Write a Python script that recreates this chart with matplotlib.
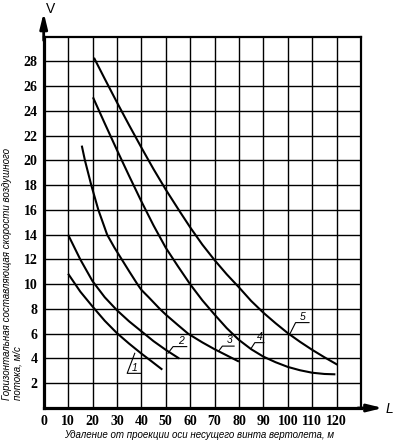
import matplotlib
matplotlib.use('Agg')
import matplotlib.pyplot as plt

# ---- data ----
x_ticks = [0, 10, 20, 30, 40, 50, 60, 70, 80, 90, 100, 110, 120]
x_labels = ['0', '10', '20', '30', '40', '50', '60', '70', '80', '90', '100', '110', '120']
y_ticks = [2, 4, 6, 8, 10, 12, 14, 16, 18, 20, 22, 24, 26, 28]
y_labels = [str(v) for v in y_ticks]

c1_x = [10, 15, 20, 25, 30, 35, 40, 44, 48.6]
c1_y = [10.85, 9.4, 8.2, 7.05, 6.05, 5.2, 4.4, 3.8, 3.1]

c2_x = [10, 13, 15, 20, 25, 30, 35, 40, 45, 50, 55.5]
c2_y = [14.0, 12.8, 12.0, 10.25, 8.95, 7.9, 7.0, 6.2, 5.4, 4.7, 4.0]

c3_x = [15.6, 16.9, 19.5, 22.4, 26, 29, 32, 35, 38.4, 40, 43, 47.6, 50, 55, 59.2, 65, 70, 75, 80]
c3_y = [21.2, 20.0, 18.0, 16.0, 14.0, 12.95, 12.0, 11.05, 10.0, 9.55, 8.95, 8.0, 7.55, 6.7, 6.0, 5.3, 4.75, 4.25, 3.75]

c4_x = [20.2, 25, 30, 35, 40, 45, 50, 55, 60, 65, 70, 75, 80, 85, 90, 95, 100, 105, 110, 115, 119.5]
c4_y = [25.1, 23.0, 20.85, 18.75, 16.7, 14.75, 12.95, 11.45, 10.0, 8.7, 7.55, 6.45, 5.5, 4.75, 4.15, 3.7, 3.32, 3.05, 2.85, 2.75, 2.72]

c5_x = [20.6, 25, 30, 35, 40, 45, 50, 56, 60, 65, 70, 75, 80, 85, 90, 95, 100, 105, 110, 115, 120.3]
c5_y = [28.3, 26.6, 24.7, 22.85, 21.05, 19.3, 17.65, 15.8, 14.6, 13.2, 11.95, 10.8, 9.75, 8.65, 7.7, 6.85, 6.05, 5.35, 4.7, 4.1, 3.5]

curves = [(c1_x, c1_y), (c2_x, c2_y), (c3_x, c3_y), (c4_x, c4_y), (c5_x, c5_y)]
curve_names = ['1', '2', '3', '4', '5']

# leader lines for curve numbers (data coords)
leaders = [
    [(37.3, 4.42), (34.2, 2.8), (39.7, 2.8)],
    [(50.9, 4.42), (53.0, 4.96), (58.6, 4.96)],
    [(71.8, 4.63), (73.2, 5.0), (78.0, 5.0)],
    [(85.0, 4.82), (86.5, 5.28), (90.2, 5.28)],
    [(100.9, 6.0), (103.2, 6.9), (108.7, 6.9)],
]
label_pos = [(37.3, 2.85), (56.2, 5.0), (76.0, 5.05), (88.4, 5.33), (106.2, 6.95)]

# ---- figure ----
fig = plt.figure(figsize=(3.94, 4.41), dpi=100)
W, H = 394.0, 441.0
ax = fig.add_axes([43.7 / W, (H - 408) / H, (361 - 43.7) / W, (408 - 36.7) / H])
ax.set_xlim(0, 130)
ax.set_ylim(0, 30)

ax.set_xticks(x_ticks)
ax.set_xticklabels(x_labels)
ax.set_yticks(y_ticks)
ax.set_yticklabels(y_labels)
ax.grid(True, color='black', linewidth=1.0)
ax.set_axisbelow(True)
ax.tick_params(length=0)
ax.tick_params(axis='x', pad=5)
ax.tick_params(axis='y', pad=4.5)
for lab in ax.get_xticklabels() + ax.get_yticklabels():
    lab.set_fontfamily('Liberation Serif')
    lab.set_fontweight('bold')
    lab.set_fontsize(10)

for s in ['left', 'bottom']:
    ax.spines[s].set_linewidth(2.3)
for s in ['top', 'right']:
    ax.spines[s].set_linewidth(1.6)

for (xs, ys) in curves:
    ax.plot(xs, ys, color='black', linewidth=1.5, solid_capstyle='butt',
            solid_joinstyle='round')

for pts, name, pos in zip(leaders, curve_names, label_pos):
    ax.plot([p[0] for p in pts], [p[1] for p in pts], color='black', linewidth=0.8)
    ax.text(pos[0], pos[1], name, ha='center', va='bottom', fontsize=7.5,
            style='italic', family='Liberation Sans')

# axis arrows
ax.annotate('', xy=(0, 1.065), xytext=(0, 0.99), xycoords='axes fraction',
            arrowprops=dict(arrowstyle='-|>,head_length=0.9,head_width=0.22',
                            lw=2.0, color='black', shrinkA=0, shrinkB=0,
                            mutation_scale=10),
            annotation_clip=False)
ax.annotate('', xy=(1.069, 0), xytext=(0.99, 0), xycoords='axes fraction',
            arrowprops=dict(arrowstyle='-|>,head_length=0.9,head_width=0.22',
                            lw=2.0, color='black', shrinkA=0, shrinkB=0,
                            mutation_scale=10),
            annotation_clip=False)

fig.text(51 / W, 1 - 9 / H, 'V', ha='center', va='center', fontsize=10,
         family='Liberation Sans')
fig.text(389 / W, 1 - 409 / H, 'L', ha='center', va='center', fontsize=10,
         family='Liberation Sans', style='italic')

fig.text(199 / W, 1 - 435 / H, 'Удаление от проекции оси несущего винта вертолета, м',
         ha='center', va='center', fontsize=7, style='italic', family='Liberation Sans')
fig.text(12 / W, 1 - 400 / H,
         'Горизонтальная составляющая скорости воздушного\nпотока, м/с',
         rotation=90, ha='center', va='bottom', multialignment='left',
         fontsize=7, style='italic', family='Liberation Sans', linespacing=1.05)

fig.savefig('out.png', dpi=100)
